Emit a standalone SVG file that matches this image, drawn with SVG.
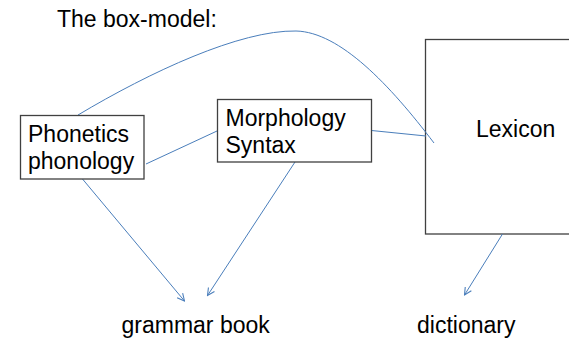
<svg xmlns="http://www.w3.org/2000/svg" width="569" height="341" viewBox="0 0 569 341">
  <style>
    text { font-family: "Liberation Sans", Arial, sans-serif; font-size: 23px; fill: #000; }
    .box { fill: #fff; stroke: #404040; stroke-width: 1.3; }
    .link { fill: none; stroke: #4a7ebb; stroke-width: 1; }
  </style>
  <defs>
    <marker id="open" viewBox="0 0 10 10" refX="9" refY="5" markerWidth="9" markerHeight="9" markerUnits="userSpaceOnUse" orient="auto">
      <path d="M1,1 L9,5 L1,9" fill="none" stroke="#4a7ebb" stroke-width="1.2"/>
    </marker>
  </defs>

  <rect width="569" height="341" fill="#fff"/>

  <text id="title" x="57" y="27">The box-model:</text>

  <g id="node-lexicon">
    <rect class="box" x="425.5" y="39.5" width="150" height="194.5"/>
    <text x="476" y="137">Lexicon</text>
  </g>

  <g id="connectors">
    <path class="link" d="M78,115 C150,72 240,30 296,31 C340,32 390,85 434,143"/>
    <path class="link" d="M146,164 L217,131"/>
    <path class="link" d="M371.5,130.5 L426,136"/>
    <path class="link" marker-end="url(#open)" d="M82.5,179 L184.5,301"/>
    <path class="link" marker-end="url(#open)" d="M295,162 L207.5,295.5"/>
    <path class="link" marker-end="url(#open)" d="M502.5,234 L464.5,295"/>
  </g>

  <g id="node-phonetics">
    <rect class="box" x="20.5" y="115.5" width="123.5" height="63.5"/>
    <text x="28" y="142">Phonetics</text>
    <text x="28" y="168.5">phonology</text>
  </g>

  <g id="node-morphology">
    <rect class="box" x="217.5" y="99.5" width="154" height="62.5"/>
    <text x="225.5" y="126">Morphology</text>
    <text x="225.5" y="153">Syntax</text>
  </g>

  <g id="node-grammar">
    <text x="121.5" y="333">grammar book</text>
  </g>

  <g id="node-dictionary">
    <text x="417" y="333">dictionary</text>
  </g>
</svg>
